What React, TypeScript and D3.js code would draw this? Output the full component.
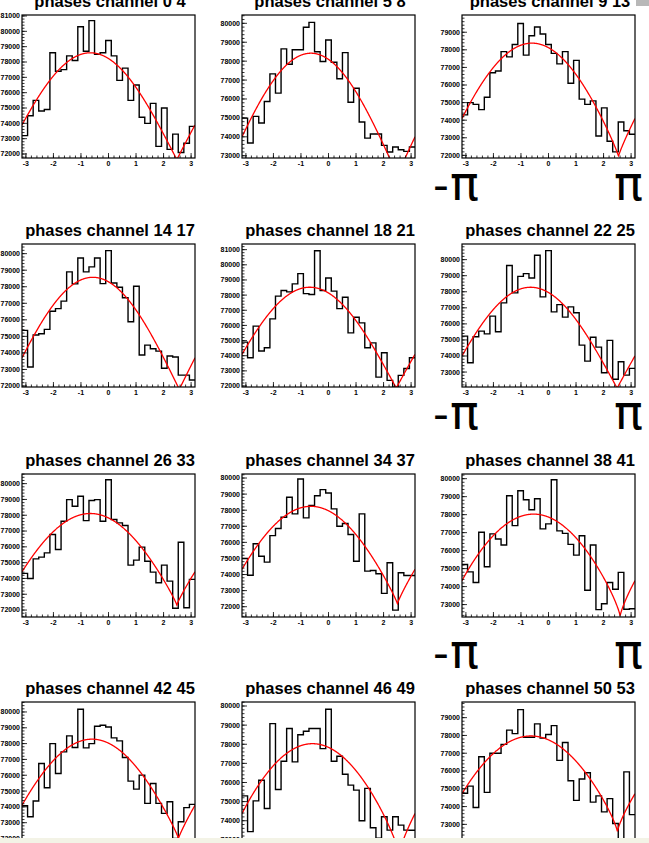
import React from "react";
import * as d3 from "d3";

const titles = [
  "phases channel 0 4", "phases channel 5 8", "phases channel 9 13",
  "phases channel 14 17", "phases channel 18 21", "phases channel 22 25",
  "phases channel 26 33", "phases channel 34 37", "phases channel 38 41",
  "phases channel 42 45", "phases channel 46 49", "phases channel 50 53",
];

const ch0_4 = [73200, 74500, 75500, 74800, 74900, 78600, 77400, 77500, 78400, 78100, 80300, 78700, 80700, 78500, 78600, 79400, 78400, 76800, 77600, 75500, 76500, 74400, 74000, 75300, 72500, 75000, 72300, 73300, 72100, 72700, 73800];
const ch5_8 = [74990, 73670, 75080, 74730, 75870, 77330, 76310, 78650, 77840, 78600, 78600, 79790, 80050, 78500, 77980, 79120, 77940, 77070, 78450, 75830, 76570, 74780, 73930, 74150, 74150, 73550, 73200, 73460, 73320, 73230, 73460];
const ch9_13 = [74300, 75000, 74900, 74600, 75300, 76700, 76800, 77900, 77600, 78300, 79500, 77700, 78800, 79300, 78900, 78300, 77800, 77200, 77900, 76100, 77400, 75200, 74900, 75100, 73100, 74700, 72800, 72200, 73900, 73400, 73200];
const ch14_17 = [75360, 73150, 75080, 75160, 75420, 76520, 76680, 77130, 78900, 78170, 79740, 78900, 79200, 79740, 78190, 80180, 78230, 77970, 77330, 75880, 78030, 73870, 74470, 74250, 74110, 73070, 73810, 73750, 72660, 72660, 72360];
const ch18_21 = [74900, 73870, 75950, 74310, 74530, 76430, 77930, 78300, 78210, 78740, 79420, 78100, 78040, 80930, 78300, 79130, 78260, 77110, 77860, 75510, 76540, 76170, 74530, 74850, 72590, 74200, 72370, 71930, 72700, 73160, 73870];
const ch22_25 = [75240, 73580, 75200, 75550, 75380, 76480, 75510, 77310, 79630, 77930, 78960, 79130, 78860, 80270, 77680, 80560, 76750, 77200, 76420, 77060, 76690, 74680, 73680, 75170, 74550, 72960, 74970, 72550, 73640, 72810, 73230];
const ch26_33 = [74320, 74000, 75240, 75350, 75620, 76780, 75830, 77620, 78990, 78570, 79200, 77660, 78930, 78990, 77620, 80250, 77730, 77520, 77350, 74840, 75160, 75980, 75090, 74400, 73730, 74840, 73830, 72110, 76290, 72150, 73940];
const ch34_37 = [75000, 73960, 75910, 75140, 74770, 76420, 76860, 77560, 78800, 77770, 79940, 77520, 78300, 78900, 79280, 79070, 78080, 77000, 77170, 76490, 74830, 77770, 74210, 74250, 74050, 72830, 74730, 71790, 74110, 73940, 73940];
const ch38_41 = [75230, 74820, 74230, 77020, 75100, 76930, 76650, 76310, 79050, 77390, 79330, 78830, 78270, 78880, 77210, 77490, 79940, 77100, 76960, 76350, 75750, 76830, 73800, 76310, 72720, 73050, 74230, 73850, 74790, 72740, 72770];
const ch42_45 = [74070, 73380, 74370, 76740, 75210, 78000, 76110, 77480, 78490, 77750, 80170, 77730, 78000, 79100, 79160, 79050, 78360, 78170, 77120, 75630, 75120, 76010, 74220, 75480, 74220, 73590, 74320, 72010, 73060, 73950, 74160];
const ch46_49 = [75300, 73430, 75040, 76120, 74640, 79080, 75630, 77110, 78820, 77080, 78500, 78680, 78820, 78820, 77770, 79830, 77110, 77370, 76430, 75860, 75600, 74000, 75690, 73630, 73080, 74210, 73510, 74210, 73770, 73510, 73500];
const ch50_53 = [74750, 75150, 73950, 76800, 74800, 77000, 77000, 77500, 78300, 78100, 79450, 77900, 77900, 78650, 77850, 78050, 78550, 76600, 77600, 75450, 74350, 75550, 75900, 74250, 74600, 73700, 74450, 73050, 72150, 75950, 73550];

const histValues = [ch0_4, ch5_8, ch9_13, ch14_17, ch18_21, ch22_25, ch26_33, ch34_37, ch38_41, ch42_45, ch46_49, ch50_53];

const yMins = [71740, 72880, 71850, 71940, 71935, 72070, 71560, 71360, 72310, 71590, 72730, 71840];
const yMaxs = [81065, 80440, 79980, 80583, 81373, 80973, 80610, 80250, 80260, 80630, 80210, 79880];

const fitBase = [71637, 71970, 71950, 71800, 71870, 72000, 72320, 72190, 72360, 72010, 72250, 72590];
const fitAmp = [6963, 6450, 6430, 6770, 6650, 6280, 5790, 6050, 5670, 6270, 5780, 5380];
const fitPhase = [-0.66, -0.64, -0.6, -0.57, -0.68, -0.65, -0.66, -0.64, -0.54, -0.6, -0.58, -0.64];
const fitPow = [1, 1, 0.9, 1, 1, 1, 0.9, 0.9, 0.8, 0.9, 0.8, 0.8];

const xTicks = [-3, -2, -1, 0, 1, 2, 3];
const piRows = [0, 1, 2];

const W = 649;
const H = 843;
const colX = [0, 220, 440];
const rowY = [15, 244, 474, 702];
const FW = 173;
const FH = 143;
const FOFF = 22;
const piBase = [200, 429, 668];
const FONT = "'Liberation Sans', Arial, Helvetica, sans-serif";

function Panel({ i }: { i: number }) {
  const c = i % 3;
  const r = Math.floor(i / 3);
  const x0 = colX[c] + FOFF;
  const y0 = rowY[r];
  const xs = d3.scaleLinear().domain([-Math.PI, Math.PI]).range([x0, x0 + FW]);
  const ys = d3.scaleLinear().domain([yMins[i], yMaxs[i]]).range([y0 + FH, y0]);
  const vals = histValues[i];
  const n = vals.length;
  const edges = d3.range(n + 1).map((k) => -Math.PI + (2 * Math.PI * k) / n);
  let p = `M${xs(edges[0])},${ys(vals[0])}`;
  for (let k = 0; k < n; k++) {
    if (k > 0) p += `V${ys(vals[k])}`;
    p += `H${xs(edges[k + 1])}`;
  }
  const fx = d3.range(0, 601).map((k) => -Math.PI + (2 * Math.PI * k) / 600);
  const fitLine = d3
    .line<number>()
    .x((x) => xs(x))
    .y((x) => ys(fitBase[i] + fitAmp[i] * Math.pow(Math.abs(Math.cos((x - fitPhase[i]) / 2)), fitPow[i])));
  const yMajor = d3.range(Math.ceil(yMins[i] / 1000) * 1000, yMaxs[i] + 1, 1000);
  const yMinor = d3.range(Math.ceil(yMins[i] / 200) * 200, yMaxs[i] + 1, 200);
  const xMinor = d3.range(-3.2, 3.21, 0.2).filter((v) => v >= -Math.PI && v <= Math.PI);
  const clipId = `clip${i}`;
  return (
    <g>
      <defs>
        <clipPath id={clipId}>
          <rect x={x0} y={y0} width={FW} height={FH} />
        </clipPath>
      </defs>
      <text x={x0 + 88} y={y0 - 8} textAnchor="middle" fontSize={16.5} fontWeight="bold" fill="#000">
        {titles[i]}
      </text>
      <g clipPath={`url(#${clipId})`}>
        <path d={p} fill="none" stroke="#000" strokeWidth={1.4} />
        <path d={fitLine(fx) || ""} fill="none" stroke="#ff0000" strokeWidth={1.3} />
      </g>
      {xMinor.map((v, k) => (
        <line key={"xm" + k} x1={xs(v)} x2={xs(v)} y1={y0 + FH} y2={y0 + FH - 2.5} stroke="#000" strokeWidth={0.8} />
      ))}
      {xTicks.map((v) => (
        <g key={"xt" + v}>
          <line x1={xs(v)} x2={xs(v)} y1={y0 + FH} y2={y0 + FH - 5} stroke="#000" strokeWidth={0.8} />
          <text x={xs(v)} y={y0 + FH + 8} textAnchor="middle" fontSize={7} fontWeight="bold" fill="#000">
            {v}
          </text>
        </g>
      ))}
      {yMinor.map((v, k) => (
        <line key={"ym" + k} x1={x0} x2={x0 + 2.5} y1={ys(v)} y2={ys(v)} stroke="#000" strokeWidth={0.8} />
      ))}
      {yMajor.map((v) => (
        <g key={"yt" + v}>
          <line x1={x0} x2={x0 + 5} y1={ys(v)} y2={ys(v)} stroke="#000" strokeWidth={0.8} />
          <text x={x0 - 2} y={ys(v)} dy="0.35em" textAnchor="end" fontSize={7} fontWeight="bold" fill="#000">
            {v}
          </text>
        </g>
      ))}
      <rect x={x0} y={y0} width={FW} height={FH} fill="none" stroke="#000" strokeWidth={1.2} />
    </g>
  );
}

export default function App() {
  return (
    <svg
      width={W}
      height={H}
      style={{ position: "absolute", left: 0, top: 0, display: "block" }}
      fontFamily={FONT}
    >
      <rect x={0} y={0} width={W} height={H} fill="#fff" />
      {titles.map((_, i) => (
        <Panel key={i} i={i} />
      ))}
      {piRows.map((r) => (
        <g key={"pi" + r} fontFamily="'DejaVu Sans', sans-serif" fill="#000">
          <text x={433} y={piBase[r]} fontSize={44}>-</text>
          <text x={450} y={piBase[r]} fontSize={48}>π</text>
          <text x={614} y={piBase[r]} fontSize={48}>π</text>
        </g>
      ))}
      <rect x={636} y={0} width={13} height={6} fill="#b8b8b8" />
      <rect x={0} y={838} width={W} height={5} fill="#f3f3e6" />
    </svg>
  );
}
